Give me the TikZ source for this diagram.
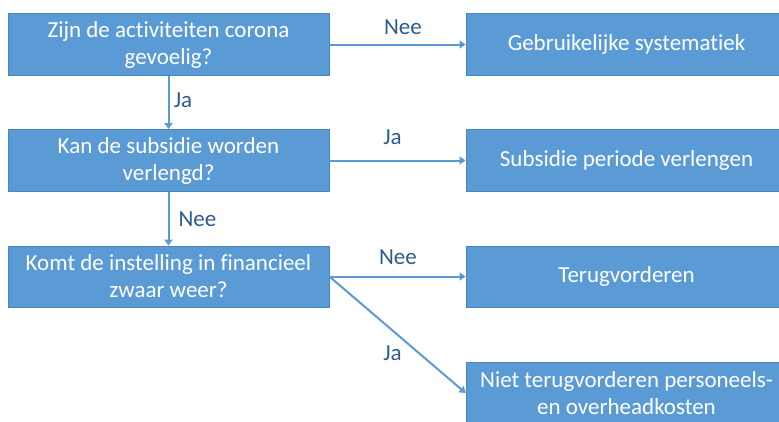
\documentclass[tikz,border=0pt]{standalone}
\usepackage{fontspec}
\setmainfont[Ligatures={NoCommon}]{Carlito}
\usetikzlibrary{arrows.meta}
\definecolor{boxfill}{HTML}{5B9BD5}
\definecolor{boxline}{HTML}{4A86BE}
\definecolor{lbl}{HTML}{2E5C8A}
\begin{document}
\begin{tikzpicture}[x=1pt,y=-1pt,
  box/.style={draw=boxline, line width=0.8pt, fill=boxfill, minimum width=321pt, minimum height=62pt,
    text=white, align=center, font=\fontsize{23}{27}\selectfont, inner sep=0pt},
  conn/.style={draw=boxfill, line width=2pt, -{Triangle[width=8pt,length=6pt]}},
  lab/.style={text=lbl, font=\fontsize{23}{26}\selectfont, inner sep=0pt}]
\useasboundingbox (0,0) rectangle (779,421);
\clip (0,0) rectangle (779,421);
\node[box] (q1) at (168.5,44.5) {Zijn de activiteiten corona\\gevoelig?};
\node[box] (q2) at (168.5,160.5) {Kan de subsidie worden\\verlengd?};
\node[box, minimum height=61pt] (q3) at (168.5,276.5) {Komt de instelling in financieel\\zwaar weer?};
\node[box] (r1) at (626.5,44.5) {Gebruikelijke systematiek};
\node[box] (r2) at (626.5,160.5) {Subsidie periode verlengen};
\node[box, minimum height=61pt] (r3) at (626.5,276.5) {Terugvorderen};
\node[box] (r4) at (626.5,393) {Niet terugvorderen personeels-\\en overheadkosten};
\draw[conn] (q1) -- (r1);
\draw[conn] (q2) -- (r2);
\draw[conn] (q3) -- (r3);
\draw[conn] (q3.east) -- (r4.west);
\draw[conn] (q1) -- (q2);
\draw[conn] (q2) -- (q3);
\node[lab] (l1) at (403,27) {Nee};
\node[lab] (l2) at (183,100) {Ja};
\node[lab] (l3) at (392.5,137) {Ja};
\node[lab] (l4) at (197.5,219) {Nee};
\node[lab] (l5) at (398,257) {Nee};
\node[lab] (l6) at (392.5,353) {Ja};
\end{tikzpicture}
\end{document}
